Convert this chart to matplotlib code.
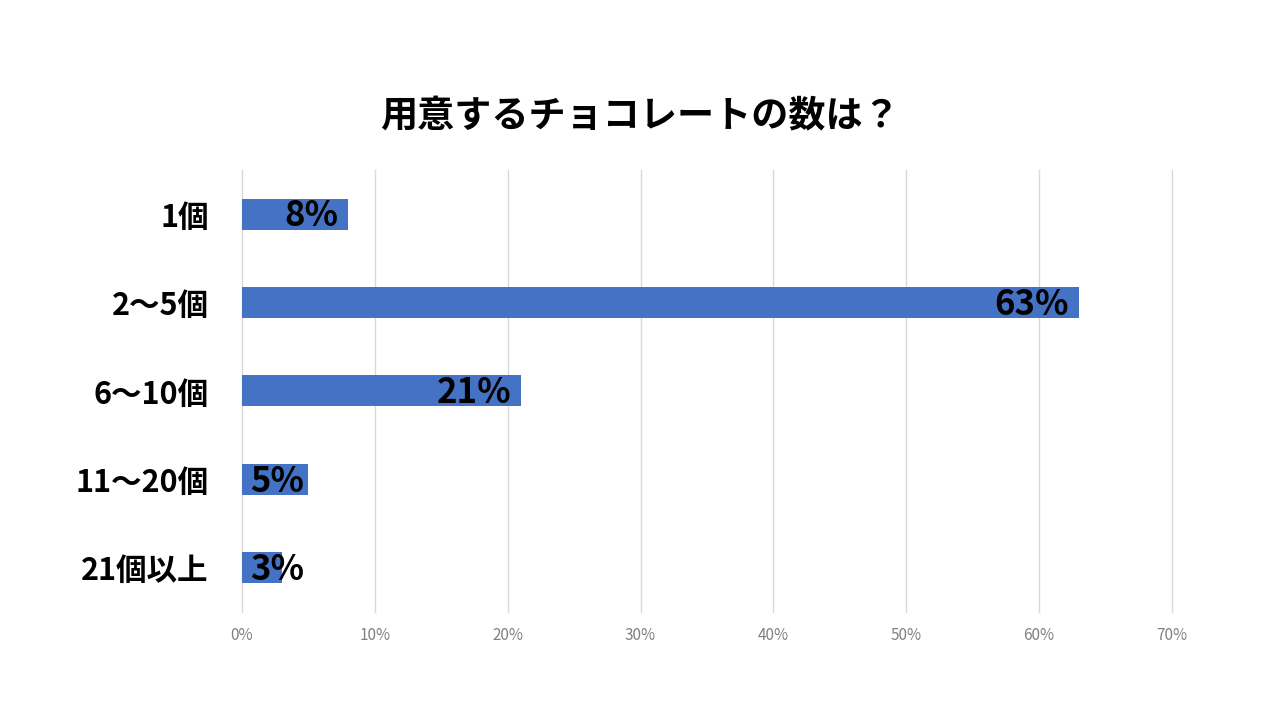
import matplotlib
matplotlib.use("Agg")
import matplotlib.pyplot as plt
from matplotlib.ticker import PercentFormatter

plt.rcParams['font.family'] = ['Noto Sans CJK JP', 'DejaVu Sans']

title = "用意するチョコレートの数は？"
categories = ["1個", "2〜5個", "6〜10個", "11〜20個", "21個以上"]
values = [8, 63, 21, 5, 3]
value_labels = ["8%", "63%", "21%", "5%", "3%"]
xticks = [0, 10, 20, 30, 40, 50, 60, 70]

fig = plt.figure(figsize=(12.8, 7.2), dpi=100)
ax = fig.add_axes([0.189, 0.15, 0.7266, 0.614])

y = list(range(len(categories)))
ax.barh(y, values, height=0.35, color="#4472C4", zorder=3)

ax.set_xlim(0, 70)
ax.set_ylim(len(categories) - 0.5, -0.5)
ax.set_xticks(xticks)
ax.xaxis.set_major_formatter(PercentFormatter(decimals=0))
ax.grid(axis="x", color="#d9d9d9", linewidth=1, zorder=0)
for gl in ax.get_xgridlines():
    gl.set_clip_on(False)
ax.set_yticks(y)
ax.set_yticklabels(categories, fontsize=22, fontweight="bold", color="black")
ax.tick_params(axis="y", length=0, pad=24)
ax.tick_params(axis="x", length=0, labelsize=11, labelcolor="#808080", pad=11)
for s in ax.spines.values():
    s.set_visible(False)

for yi, v, lab in zip(y, values, value_labels):
    if v >= 8:
        ax.text(v - 0.75, yi + 0.02, lab, ha="right", va="center", fontsize=25,
                fontweight="bold", color="black", zorder=4)
    else:
        ax.text(0.6, yi + 0.02, lab, ha="left", va="center", fontsize=25,
                fontweight="bold", color="black", zorder=4)

fig.text(0.5, 0.838, title, ha="center", va="center", fontsize=26.7, fontweight="bold")

fig.savefig("out.png", dpi=100, facecolor="white")
